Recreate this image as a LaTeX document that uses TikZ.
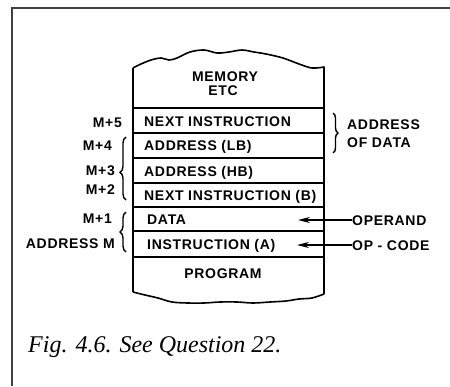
\documentclass[tikz,border=0pt]{standalone}
\usepackage{fontspec}
\usetikzlibrary{decorations.pathreplacing,arrows.meta}
\newfontfamily\lblfont[LetterSpace=5]{Liberation Sans}
\newfontfamily\capfont{Liberation Serif}
\tikzset{
  lbl/.style={font=\lblfont\bfseries\fontsize{14}{16}\selectfont, inner sep=0pt, text height=10pt, text depth=0pt},
  rowtxt/.style={lbl, anchor=west},
  lefttxt/.style={lbl, anchor=east},
  sep/.style={line width=2.2pt},
  outline/.style={line width=1.6pt, line join=round},
  bracepath/.style={decorate, line width=1.4pt},
  arr/.style={line width=1.4pt, -{Stealth[length=12pt,width=6pt]}},
}
\begin{document}
\begin{tikzpicture}[x=1pt,y=-1pt]
\useasboundingbox (0,0) rectangle (450,386);
% frame
\draw[line width=1.3pt, black!75] (12,386) -- (12,8) -- (450,8);
% column outline
\draw[outline] (133,292) -- (133,68)
  plot[smooth, tension=0.55] coordinates {(133,68) (141,64) (151,60) (161,58) (169,60) (177,58) (190,52) (204,50) (217,53) (229,52) (242,50) (254,52) (266,54) (283,58) (299,64) (312,68) (324,67)}
  -- (324,294)
  plot[smooth, tension=0.55] coordinates {(324,294) (312,298) (299,299) (286,301) (270,302) (253,303) (237,302) (220,302) (204,303) (188,303) (172,302) (158,298) (145,295) (133,292)};
% separators
\foreach \yy in {108,133,158,183,207,231,257} \draw[sep] (133,\yy) -- (324,\yy);
% texts in column
\node[lbl] (mem) at (225,76) {MEMORY};
\node[lbl] (etc) at (223,90) {ETC};
\node[rowtxt] (r5) at (144,121) {NEXT INSTRUCTION};
\node[rowtxt] (r4) at (144,145) {ADDRESS (LB)};
\node[rowtxt] (r3) at (144,171) {ADDRESS (HB)};
\node[rowtxt] (r2) at (144,195) {NEXT INSTRUCTION (B)};
\node[rowtxt] (r1) at (147,219) {DATA};
\node[rowtxt] (r0) at (147,244) {INSTRUCTION (A)};
\node[lbl] (prog) at (223,273) {PROGRAM};
% left labels
\node[lefttxt] (m5) at (122,122) {M+5};
\node[lefttxt] (m4) at (112,145) {M+4};
\node[lefttxt] (m3) at (115,170) {M+3};
\node[lefttxt] (m2) at (115,189) {M+2};
\node[lefttxt] (m1) at (112,218) {M+1};
\node[lefttxt] (am) at (115,243) {ADDRESS M};
% braces
\coordinate (b1s) at (126,200);
\coordinate (b1e) at (126,137);
\draw[bracepath, decoration={brace, amplitude=6pt, aspect=0.44}] (b1s) -- (b1e);
\coordinate (b2s) at (126,252);
\coordinate (b2e) at (126,212);
\draw[bracepath, decoration={brace, amplitude=6pt}] (b2s) -- (b2e);
\coordinate (b3s) at (333,113);
\coordinate (b3e) at (333,153);
\draw[bracepath, decoration={brace, amplitude=5pt}] (b3s) -- (b3e);
% right labels
\node[rowtxt] (ad) at (347,124) {ADDRESS};
\node[rowtxt] (od) at (347,142) {OF DATA};
\node[rowtxt] (opd) at (352,220) {OPERAND};
\node[rowtxt] (opc) at (352,245) {OP - CODE};
\coordinate (t1) at (298,220);
\coordinate (t2) at (297,245);
\draw[arr] (opd.west) -- (t1);
\draw[arr] (opc.west) -- (t2);
% caption
\node[anchor=base west, inner sep=0pt, font=\capfont\itshape\fontsize{24}{28}\selectfont] (cap) at (28,352) {Fig. 4.6. See Question 22.};
\end{tikzpicture}
\end{document}
